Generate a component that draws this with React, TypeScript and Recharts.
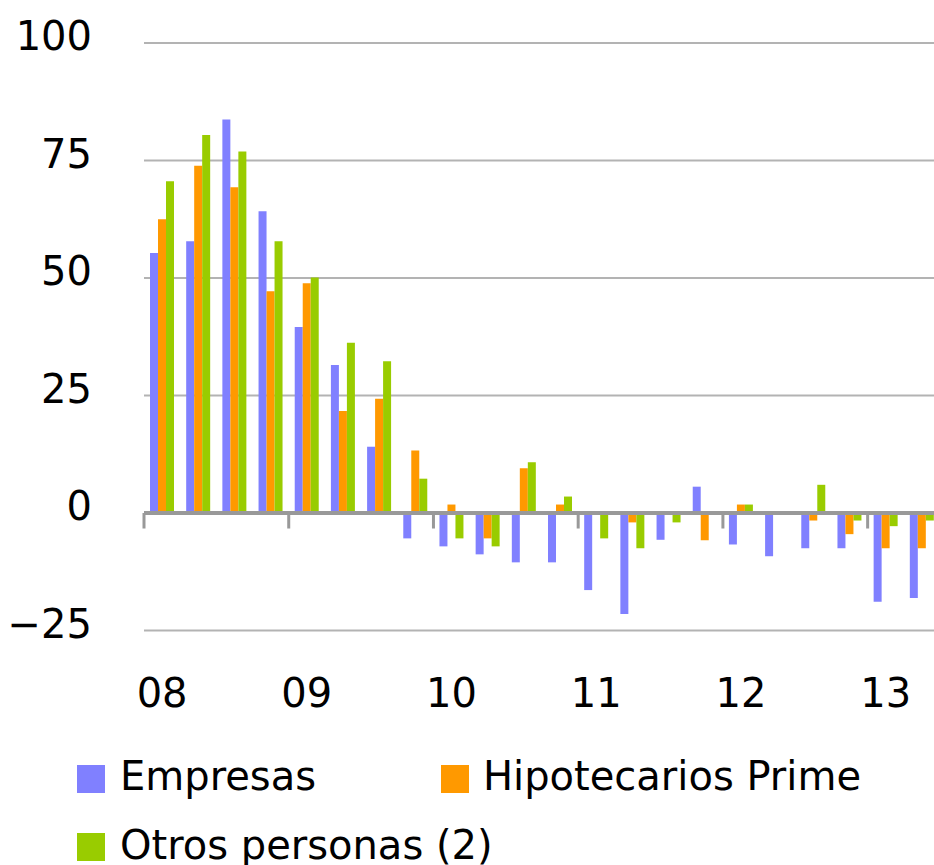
import React from 'react';
import { BarChart, Bar, XAxis, YAxis, CartesianGrid, ReferenceLine, Legend } from 'recharts';

const quarters = [
  'I-08', 'II-08', 'III-08', 'IV-08',
  'I-09', 'II-09', 'III-09', 'IV-09',
  'I-10', 'II-10', 'III-10', 'IV-10',
  'I-11', 'II-11', 'III-11', 'IV-11',
  'I-12', 'II-12', 'III-12', 'IV-12',
  'I-13', 'II-13',
];
const empresas = [55.3, 57.8, 83.7, 64.2, 39.6, 31.5, 14.1, -5.4, -7.1, -8.8, -10.5, -10.5, -16.4, -21.5, -5.7, 5.6, -6.7, -9.2, -7.5, -7.5, -18.9, -18.1];
const hipotecarios = [62.5, 73.9, 69.3, 47.2, 48.9, 21.7, 24.3, 13.3, 1.8, -5.4, 9.5, 1.8, 0, -2.0, 0, -5.8, 1.8, 0, -1.6, -4.5, -7.5, -7.5];
const otros = [70.6, 80.4, 76.9, 57.8, 50.1, 36.2, 32.3, 7.3, -5.4, -7.1, 10.8, 3.5, -5.4, -7.5, -2.0, 0, 1.8, 0, 6.0, -1.6, -2.8, -1.6];
const yTicks = [-25, 0, 25, 50, 75, 100];
const seriesNames = ['Empresas', 'Hipotecarios Prime', 'Otros personas (2)'];
const seriesColors = ['#8080FF', '#FF9900', '#99CC00'];

const data = quarters.map((q, i) => ({
  q,
  empresas: empresas[i],
  hipotecarios: hipotecarios[i],
  otros: otros[i],
}));

const FONT = '"DejaVu Sans", sans-serif';
const yearStarts = quarters.filter((q) => q.startsWith('I-'));

const XTick = (props: any) => {
  const { x, y, payload } = props;
  const v: string = payload.value;
  if (!v.startsWith('I-')) return null;
  return (
    <text x={x} y={y + 68} textAnchor="middle" fontSize={40} fontFamily={FONT} fill="#000">
      {v.slice(2)}
    </text>
  );
};

const YTick = (props: any) => {
  const { x, y, payload } = props;
  const v = String(payload.value).replace('-', '\u2212');
  return (
    <text x={x} y={y + 7} textAnchor="end" fontSize={40} fontFamily={FONT} fill="#000">
      {v}
    </text>
  );
};

const renderLegend = () => (
  <svg width={926} height={117} style={{ display: 'block' }}>
    <rect x={69} y={17} width={28} height={28} fill={seriesColors[0]} />
    <text x={112} y={42} fontSize={40} fontFamily={FONT} fill="#000">{seriesNames[0]}</text>
    <rect x={433} y={17} width={28} height={28} fill={seriesColors[1]} />
    <text x={475} y={42} fontSize={40} fontFamily={FONT} fill="#000">{seriesNames[1]}</text>
    <rect x={69} y={85} width={28} height={28} fill={seriesColors[2]} />
    <text x={112} y={111} fontSize={40} fontFamily={FONT} fill="#000">{seriesNames[2]}</text>
  </svg>
);

export default function App() {
  return (
    <>
      <style>{'body{margin:8px 0 0 8px}'}</style>
      <div style={{ width: 926, height: 857, overflow: 'hidden', position: 'relative' }}>
        <BarChart
          width={932}
          height={857}
          data={data}
          margin={{ top: 35, right: 0, left: 0, bottom: 174.5 }}
          barGap={0}
          barSize={8}
        >
          <CartesianGrid vertical={false} stroke="#b3b3b3" strokeWidth={2} />
          <XAxis
            dataKey="q"
            interval={0}
            height={60}
            axisLine={false}
            tickLine={false}
            tick={<XTick />}
          />
          <YAxis
            width={136}
            domain={[-25, 100]}
            ticks={yTicks}
            axisLine={false}
            tickLine={false}
            tickMargin={46}
            tick={<YTick />}
          />
          <Legend
            layout="horizontal"
            verticalAlign="middle"
            align="center"
            wrapperStyle={{ top: 740, left: 0, width: 926, height: 117 }}
            content={renderLegend}
          />
          <Bar dataKey="empresas" name={seriesNames[0]} fill={seriesColors[0]} isAnimationActive={false} />
          <Bar dataKey="hipotecarios" name={seriesNames[1]} fill={seriesColors[1]} isAnimationActive={false} />
          <Bar dataKey="otros" name={seriesNames[2]} fill={seriesColors[2]} isAnimationActive={false} />
          <ReferenceLine y={0} stroke="#999999" strokeWidth={4} />
          {yearStarts.map((q) => (
            <ReferenceLine
              key={q}
              segment={[{ x: q, y: 0 }, { x: q, y: -3.3 }]}
              position="start"
              stroke="#999999"
              strokeWidth={3}
            />
          ))}
        </BarChart>
      </div>
    </>
  );
}
